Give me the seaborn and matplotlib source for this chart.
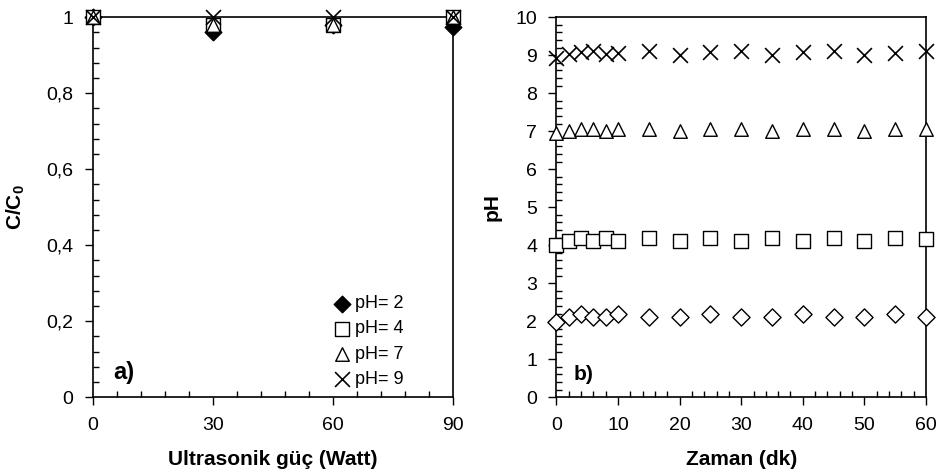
import matplotlib
matplotlib.use("Agg")
import matplotlib.pyplot as plt
import seaborn as sns
import pandas as pd
from matplotlib.ticker import MultipleLocator, FuncFormatter

# ---- data: panel a ----
power = [0, 30, 60, 90]
cc0_ph2 = [1.0, 0.96, 0.98, 0.975]
cc0_ph4 = [1.0, 0.98, 0.98, 1.0]
cc0_ph7 = [1.0, 0.98, 0.98, 1.0]
cc0_ph9 = [1.0, 1.0, 1.0, 1.0]

# ---- data: panel b ----
time_min = [0, 2, 4, 6, 8, 10, 15, 20, 25, 30, 35, 40, 45, 50, 55, 60]
ph_2 = [1.97, 2.1, 2.2, 2.1, 2.1, 2.2, 2.1, 2.1, 2.2, 2.1, 2.1, 2.2, 2.1, 2.1, 2.2, 2.1]
ph_4 = [4.0, 4.1, 4.2, 4.1, 4.2, 4.1, 4.2, 4.1, 4.2, 4.1, 4.2, 4.1, 4.2, 4.1, 4.2, 4.15]
ph_7 = [6.95, 7.0, 7.05, 7.05, 7.0, 7.05, 7.05, 7.0, 7.05, 7.05, 7.0, 7.05, 7.05, 7.0, 7.05, 7.05]
ph_9 = [8.93, 9.03, 9.08, 9.1, 9.03, 9.05, 9.1, 9.0, 9.08, 9.12, 9.0, 9.08, 9.12, 9.0, 9.05, 9.1]

labels = ["pH= 2", "pH= 4", "pH= 7", "pH= 9"]

sns.set_theme(style="white")
plt.rcParams['font.family'] = ['Liberation Sans', 'DejaVu Sans']
plt.rcParams['text.color'] = 'black'
plt.rcParams['axes.labelcolor'] = 'black'
plt.rcParams['mathtext.fontset'] = 'custom'
plt.rcParams['mathtext.rm'] = 'Liberation Sans'
plt.rcParams['mathtext.bf'] = 'Liberation Sans:bold'

fig = plt.figure(figsize=(9.4, 4.75), dpi=100)
axa = fig.add_axes([0.099, 0.164, 0.383, 0.800])
axb = fig.add_axes([0.592, 0.164, 0.393, 0.800])

ms = 95
TICK_FS = 14
LAB_FS = 15

def style_axes(ax):
    for s in ax.spines.values():
        s.set_visible(True)
        s.set_color("black")
        s.set_linewidth(1.2)
    ax.tick_params(which="major", direction="out", length=6, width=1, colors="black",
                   labelsize=TICK_FS, pad=8, bottom=True, left=True)
    ax.tick_params(which="minor", direction="in", length=4, width=1, colors="black",
                   bottom=True, left=True)
    ax.grid(False)

# panel a
dfa = pd.DataFrame({"x": power * 4,
                    "y": cc0_ph2 + cc0_ph4 + cc0_ph7 + cc0_ph9,
                    "s": sum([[l] * len(power) for l in labels], [])})
markers_a = {"pH= 2": "D", "pH= 4": "s", "pH= 7": "^", "pH= 9": "x"}
for lab, mk in markers_a.items():
    sub = dfa[dfa.s == lab]
    if mk == "x":
        sns.scatterplot(data=sub, x="x", y="y", marker="x", color="black", s=ms * 1.2,
                        linewidth=1.2, ax=axa, label=lab, clip_on=False, zorder=5)
    elif mk == "D":
        sns.scatterplot(data=sub, x="x", y="y", marker="D", color="black", edgecolor="black",
                        s=ms * 0.75, linewidth=1, ax=axa, label=lab, clip_on=False, zorder=5)
    else:
        sns.scatterplot(data=sub, x="x", y="y", marker=mk, facecolor="white", edgecolor="black",
                        s=ms, linewidth=1, ax=axa, label=lab, clip_on=False, zorder=5)
axa.set_xlim(0, 90)
axa.set_ylim(0, 1)
axa.xaxis.set_major_locator(MultipleLocator(30))
axa.xaxis.set_minor_locator(MultipleLocator(6))
axa.yaxis.set_major_locator(MultipleLocator(0.2))
axa.yaxis.set_minor_locator(MultipleLocator(0.04))
axa.yaxis.set_major_formatter(FuncFormatter(lambda v, p: ("%g" % round(v, 2)).replace(".", ",")))
style_axes(axa)
axa.set_xlabel("Ultrasonik güç (Watt)", fontsize=LAB_FS, fontweight="bold", labelpad=12)
axa.set_ylabel(r"$\mathbf{C/C_0}$", fontsize=LAB_FS, labelpad=14)
axa.text(0.055, 0.035, "a)", transform=axa.transAxes, fontsize=17, fontweight="bold",
         va="bottom", ha="left")
leg = axa.legend(loc="upper left", bbox_to_anchor=(0.66, 0.268), frameon=False, fontsize=13,
                 handletextpad=0.05, labelspacing=0.45, borderaxespad=0.0, borderpad=0.0,
                 handlelength=1.3)

# panel b
dfb = pd.DataFrame({"t": time_min * 4,
                    "pH": ph_2 + ph_4 + ph_7 + ph_9,
                    "s": sum([[l] * len(time_min) for l in labels], [])})
markers_b = {"pH= 2": "D", "pH= 4": "s", "pH= 7": "^", "pH= 9": "x"}
for lab, mk in markers_b.items():
    sub = dfb[dfb.s == lab]
    if mk == "x":
        sns.scatterplot(data=sub, x="t", y="pH", marker="x", color="black", s=ms * 1.2,
                        linewidth=1.2, ax=axb, clip_on=False, zorder=5, legend=False)
    else:
        sns.scatterplot(data=sub, x="t", y="pH", marker=mk, facecolor="white", edgecolor="black",
                        s=ms * (0.8 if mk == "D" else 1.0), linewidth=1, ax=axb,
                        clip_on=False, zorder=5, legend=False)
axb.set_xlim(0, 60)
axb.set_ylim(0, 10)
axb.xaxis.set_major_locator(MultipleLocator(10))
axb.xaxis.set_minor_locator(MultipleLocator(2))
axb.yaxis.set_major_locator(MultipleLocator(1))
axb.yaxis.set_minor_locator(MultipleLocator(0.2))
style_axes(axb)
axb.set_xlabel("Zaman (dk)", fontsize=LAB_FS, fontweight="bold", labelpad=12)
axb.set_ylabel("pH", fontsize=LAB_FS, fontweight="bold", labelpad=10)
axb.text(0.045, 0.035, "b)", transform=axb.transAxes, fontsize=15, fontweight="bold",
         va="bottom", ha="left")

fig.savefig("out.png", dpi=100, facecolor="white")
